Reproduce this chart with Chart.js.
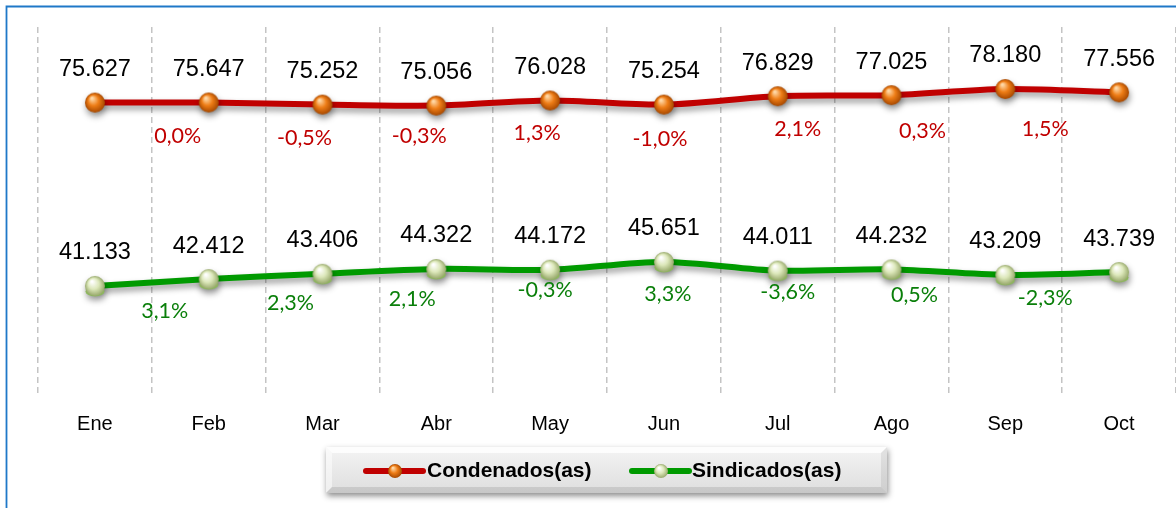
<!DOCTYPE html>
<html><head><meta charset="utf-8">
<style>html,body{margin:0;padding:0;background:#fff;overflow:hidden}</style>
<script src="https://cdn.jsdelivr.net/npm/chart.js@4.4.1/dist/chart.umd.min.js"></script>
</head><body>
<canvas id="c" width="1176" height="508" style="display:block;width:1176px;height:508px"></canvas>
<script>
const months = ['Ene','Feb','Mar','Abr','May','Jun','Jul','Ago','Sep','Oct'];
const condenados = [75627,75647,75252,75056,76028,75254,76829,77025,78180,77556];
const sindicados = [41133,42412,43406,44322,44172,45651,44011,44232,43209,43739];
const condenadosPct = [null,'0,0%','-0,5%','-0,3%','1,3%','-1,0%','2,1%','0,3%','1,5%',null];
const sindicadosPct = [null,'3,1%','2,3%','2,1%','-0,3%','3,3%','-3,6%','0,5%','-2,3%',null];
const seriesNames = ['Condenados(as)','Sindicados(as)'];

// label layout offsets in px, relative to each point
const pctLayout = [
  {dx:[0,-31,-18,-17,-13,-4,20,31,40,0], dy:[0,34,33,30,33,34,33,36,40,0], color:'#C00000'},
  {dx:[0,-44,-32,-24,-5,4,10,23,40,0], dy:[0,32,29,30,20,32,21,26,23,0], color:'#0A7F0A'}
];
const pctTexts = [condenadosPct, sindicadosPct];

const FONT = "'Liberation Sans', Arial, sans-serif";
const PFONT = "Lato, 'Noto Sans', sans-serif";

function sphere(r, c0, c1, c2, base){
  const s = Math.ceil(r*2+4); const cv = document.createElement('canvas'); cv.width = cv.height = s;
  const g = cv.getContext('2d'); const cx = s/2, cy = s/2;
  if (base){
    g.fillStyle = base;
    g.beginPath(); g.ellipse(cx, cy + r*0.55, r*0.95, r*0.5, 0, 0, Math.PI*2); g.fill();
  }
  const grad = g.createRadialGradient(cx - r*0.3, cy - r*0.45, r*0.08, cx, cy, r);
  grad.addColorStop(0, c0); grad.addColorStop(0.5, c1); grad.addColorStop(1, c2);
  g.fillStyle = grad; g.beginPath(); g.arc(cx, cy, r, 0, Math.PI*2); g.fill();
  return cv;
}
const orangeBall = sphere(10, '#ffd9a8', '#ee7d16', '#a64800');
const greenBall = sphere(10, '#ffffff', '#dde8bb', '#98a96c', '#8cb85a');
const orangeBallS = sphere(7, '#ffd9a8', '#ee7d16', '#a64800');
const greenBallS = sphere(7, '#ffffff', '#dde8bb', '#98a96c');

function fmt(v){ return String(v).replace(/\B(?=(\d{3})+(?!\d))/g, '.'); }

const framePlugin = {
  id:'frame',
  beforeDraw(chart){
    const c = chart.ctx; c.save();
    c.fillStyle = '#fff'; c.fillRect(0,0,chart.width,chart.height);
    c.strokeStyle = '#1F78C8'; c.lineWidth = 1.8;
    c.beginPath(); c.moveTo(6.5, chart.height); c.lineTo(6.5, 6.5); c.lineTo(chart.width, 6.5); c.stroke();
    c.restore();
  }
};
const shadowPlugin = {
  id:'lshadow',
  beforeDatasetDraw(chart){
    const c = chart.ctx; c.save();
    c.shadowColor = 'rgba(0,0,0,0.4)'; c.shadowBlur = 6; c.shadowOffsetX = 1; c.shadowOffsetY = 4;
  },
  afterDatasetDraw(chart){ chart.ctx.restore(); }
};
const labelPlugin = {
  id:'vlabels',
  afterDatasetsDraw(chart){
    const c = chart.ctx; c.save();
    c.textAlign = 'center'; c.textBaseline = 'middle';
    chart.data.datasets.forEach((ds, di) => {
      const meta = chart.getDatasetMeta(di);
      meta.data.forEach((pt, i) => {
        c.fillStyle = '#000'; c.font = `23.5px ${FONT}`;
        c.fillText(fmt(ds.data[i]), pt.x, pt.y - 33);
        const t = pctTexts[di][i];
        if (t){
          const L = pctLayout[di];
          c.fillStyle = L.color; c.font = `21.5px ${PFONT}`;
          c.fillText(t, pt.x + L.dx[i], pt.y + L.dy[i]);
        }
      });
    });
    c.restore();
  }
};
const legendPlugin = {
  id:'blegend',
  afterDraw(chart){
    const c = chart.ctx; const a = chart.chartArea;
    const cx = (a.left + a.right)/2;
    const x0 = cx - 281, y0 = 447, w = 561, h = 46;
    c.save();
    c.shadowColor = 'rgba(0,0,0,0.45)'; c.shadowBlur = 6; c.shadowOffsetY = 3; c.shadowOffsetX = 1;
    const gr = c.createLinearGradient(0, y0, 0, y0+h);
    gr.addColorStop(0, '#f4f4f4'); gr.addColorStop(1, '#dedede');
    c.fillStyle = gr; c.fillRect(x0, y0, w, h);
    c.restore();
    c.save();
    c.fillStyle = 'rgba(255,255,255,0.8)';
    c.beginPath(); c.moveTo(x0,y0); c.lineTo(x0+w,y0); c.lineTo(x0+w-6,y0+6); c.lineTo(x0+6,y0+6); c.closePath(); c.fill();
    c.fillStyle = 'rgba(255,255,255,0.5)';
    c.beginPath(); c.moveTo(x0,y0); c.lineTo(x0+6,y0+6); c.lineTo(x0+6,y0+h-6); c.lineTo(x0,y0+h); c.closePath(); c.fill();
    c.fillStyle = 'rgba(0,0,0,0.10)';
    c.beginPath(); c.moveTo(x0,y0+h); c.lineTo(x0+6,y0+h-6); c.lineTo(x0+w-6,y0+h-6); c.lineTo(x0+w,y0+h); c.closePath(); c.fill();
    c.fillStyle = 'rgba(0,0,0,0.07)';
    c.beginPath(); c.moveTo(x0+w,y0); c.lineTo(x0+w,y0+h); c.lineTo(x0+w-6,y0+h-6); c.lineTo(x0+w-6,y0+6); c.closePath(); c.fill();
    const yc = y0 + 24;
    const items = [
      {lx:cx-241, tx:cx-180, ball:orangeBallS},
      {lx:cx+25, tx:cx+85, ball:greenBallS}
    ];
    chart.data.datasets.forEach((ds, i) => {
      const it = items[i];
      c.strokeStyle = ds.borderColor; c.lineWidth = 6; c.lineCap = 'round';
      c.beginPath(); c.moveTo(it.lx, yc); c.lineTo(it.lx + 57, yc); c.stroke();
      c.drawImage(it.ball, it.lx + 29 - it.ball.width/2, yc - it.ball.height/2);
      c.fillStyle = '#000'; c.font = `bold 21px ${FONT}`;
      c.textAlign = 'left'; c.textBaseline = 'middle';
      c.fillText(ds.label, it.tx, yc);
    });
    c.restore();
  }
};

new Chart(document.getElementById('c').getContext('2d'), {
  type:'line',
  data:{
    labels: months,
    datasets:[
      {label:seriesNames[0], data:condenados, borderColor:'#C00000', backgroundColor:'#C00000', borderWidth:6,
       tension:0.3, pointStyle:orangeBall, pointRadius:10, fill:false},
      {label:seriesNames[1], data:sindicados, borderColor:'#009A00', backgroundColor:'#009A00', borderWidth:6,
       tension:0.3, pointStyle:greenBall, pointRadius:10, fill:false}
    ]
  },
  options:{
    responsive:false, animation:false, events:[],
    layout:{autoPadding:false, padding:{left:38, top:27, right:0, bottom:0}},
    plugins:{legend:{display:false}, tooltip:{enabled:false}},
    scales:{
      x:{
        offset:true,
        grid:{offset:true, color:'#C4C4C4', lineWidth:1.5, drawTicks:false},
        border:{display:false, dash:[6,4]},
        ticks:{font:{family:FONT, size:20}, color:'#000', padding:17},
        afterFit(s){ s.height = 113; }
      },
      y:{display:false, min:20600, max:89850}
    }
  },
  plugins:[framePlugin, shadowPlugin, labelPlugin, legendPlugin]
});
</script>
</body></html>
